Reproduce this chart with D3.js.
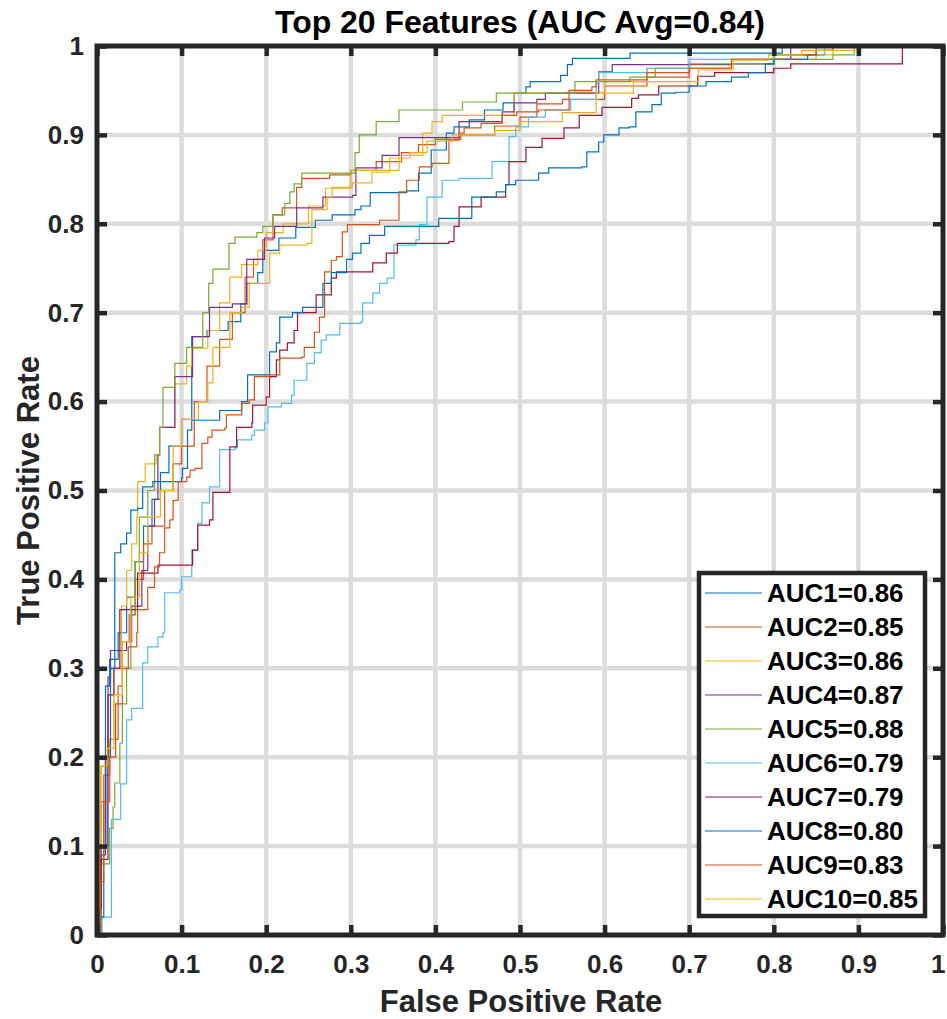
<!DOCTYPE html>
<html>
  <head>
    <meta charset="utf-8" />
    <title>Top 20 Features ROC</title>
    <style>
      body { margin: 0; background: #fff; }
      svg { display: block; font-family: "Liberation Sans", Arial, sans-serif; }
      .tick text { font-weight: bold; font-size: 26px; fill: #262626; }
    </style>
  </head>
  <body>
    <svg id="chart" width="947" height="1019"></svg>

    <script src="https://d3js.org/d3.v7.min.js"></script>
    <script>
      // ROC curves, [false positive rate, true positive rate]
      const roc1 = [[0,0],[0.005,0.15],[0.01,0.28],[0.015,0.31],[0.025,0.34],[0.035,0.38],[0.045,0.42],[0.055,0.46],[0.065,0.49],[0.075,0.52],[0.085,0.55],[0.1,0.58],[0.112,0.6],[0.112,0.673],[0.13,0.68],[0.155,0.69],[0.17,0.71],[0.177,0.733],[0.19,0.745],[0.196,0.77],[0.215,0.784],[0.235,0.796],[0.258,0.804],[0.278,0.81],[0.305,0.816],[0.312,0.82],[0.323,0.835],[0.366,0.837],[0.38,0.857],[0.395,0.883],[0.413,0.902],[0.422,0.909],[0.44,0.917],[0.458,0.928],[0.48,0.936],[0.493,0.947],[0.507,0.954],[0.512,0.96],[0.548,0.967],[0.556,0.979],[0.562,0.986],[0.615,0.986],[0.63,0.992],[0.8,0.992],[0.81,1],[1,1]];
      const roc2 = [[0,0],[0.004,0.1],[0.008,0.18],[0.015,0.22],[0.025,0.28],[0.03,0.33],[0.038,0.36],[0.045,0.4],[0.055,0.44],[0.065,0.46],[0.08,0.5],[0.09,0.53],[0.1,0.55],[0.115,0.6],[0.13,0.64],[0.145,0.67],[0.16,0.7],[0.175,0.74],[0.185,0.76],[0.196,0.782],[0.208,0.81],[0.219,0.818],[0.236,0.841],[0.242,0.851],[0.275,0.855],[0.3,0.86],[0.33,0.87],[0.36,0.88],[0.38,0.889],[0.4,0.895],[0.43,0.9],[0.47,0.91],[0.5,0.92],[0.52,0.935],[0.55,0.94],[0.6,0.955],[0.65,0.965],[0.7,0.975],[0.75,0.985],[0.8,0.99],[0.86,0.995],[0.87,1],[1,1]];
      const roc3 = [[0,0],[0.003,0.1],[0.005,0.19],[0.015,0.22],[0.02,0.3],[0.029,0.37],[0.035,0.41],[0.041,0.44],[0.047,0.47],[0.048,0.51],[0.057,0.53],[0.07,0.54],[0.074,0.571],[0.092,0.62],[0.106,0.64],[0.112,0.66],[0.131,0.68],[0.145,0.711],[0.157,0.74],[0.171,0.754],[0.19,0.77],[0.2,0.79],[0.22,0.8],[0.25,0.82],[0.27,0.84],[0.3,0.86],[0.357,0.877],[0.385,0.902],[0.396,0.915],[0.408,0.922],[0.487,0.922],[0.493,0.947],[0.554,0.948],[0.6,0.96],[0.65,0.975],[0.75,0.985],[0.85,0.99],[0.87,1],[1,1]];
      const roc4 = [[0,0],[0.005,0.09],[0.01,0.2],[0.013,0.29],[0.016,0.32],[0.035,0.33],[0.041,0.37],[0.053,0.41],[0.06,0.46],[0.068,0.49],[0.072,0.54],[0.074,0.571],[0.092,0.628],[0.113,0.673],[0.133,0.706],[0.16,0.71],[0.177,0.76],[0.198,0.784],[0.21,0.797],[0.236,0.818],[0.267,0.83],[0.302,0.832],[0.306,0.863],[0.337,0.877],[0.357,0.897],[0.422,0.897],[0.428,0.915],[0.479,0.926],[0.493,0.936],[0.52,0.94],[0.53,0.947],[0.593,0.971],[0.609,0.979],[0.75,0.98],[0.8,0.985],[0.82,1],[1,1]];
      const roc5 = [[0,0],[0.005,0.08],[0.015,0.12],[0.019,0.144],[0.021,0.171],[0.027,0.216],[0.03,0.26],[0.035,0.3],[0.04,0.36],[0.045,0.42],[0.05,0.47],[0.06,0.5],[0.068,0.54],[0.074,0.571],[0.078,0.616],[0.092,0.643],[0.106,0.661],[0.125,0.7],[0.132,0.733],[0.137,0.749],[0.156,0.778],[0.163,0.785],[0.189,0.79],[0.196,0.797],[0.208,0.81],[0.222,0.823],[0.228,0.836],[0.233,0.845],[0.242,0.857],[0.3,0.857],[0.305,0.88],[0.31,0.9],[0.33,0.915],[0.357,0.928],[0.428,0.928],[0.432,0.937],[0.472,0.947],[0.561,0.947],[0.565,0.96],[0.63,0.965],[0.66,0.975],[0.7,0.98],[0.8,0.985],[0.87,0.99],[0.895,1],[1,1]];
      const roc6 = [[0,0],[0.006,0.02],[0.017,0.13],[0.028,0.17],[0.035,0.242],[0.041,0.255],[0.054,0.306],[0.06,0.324],[0.072,0.335],[0.078,0.34],[0.08,0.385],[0.098,0.388],[0.1,0.403],[0.112,0.433],[0.119,0.463],[0.124,0.486],[0.133,0.504],[0.145,0.508],[0.145,0.546],[0.163,0.548],[0.166,0.557],[0.183,0.562],[0.186,0.568],[0.198,0.576],[0.202,0.594],[0.218,0.598],[0.23,0.607],[0.233,0.624],[0.239,0.624],[0.248,0.643],[0.257,0.655],[0.265,0.669],[0.271,0.675],[0.287,0.688],[0.312,0.69],[0.314,0.711],[0.326,0.722],[0.334,0.733],[0.343,0.739],[0.351,0.742],[0.351,0.776],[0.377,0.782],[0.381,0.799],[0.39,0.83],[0.408,0.832],[0.408,0.849],[0.428,0.851],[0.467,0.87],[0.487,0.898],[0.495,0.909],[0.51,0.92],[0.53,0.928],[0.56,0.94],[0.59,0.958],[0.593,0.97],[0.65,0.975],[0.7,0.985],[0.8,0.99],[0.85,0.99],[0.86,1],[1,1]];
      const roc7 = [[0,0],[0.003,0.03],[0.005,0.085],[0.013,0.087],[0.013,0.27],[0.02,0.3],[0.027,0.366],[0.048,0.366],[0.048,0.407],[0.072,0.416],[0.112,0.416],[0.113,0.433],[0.119,0.461],[0.133,0.467],[0.137,0.498],[0.157,0.5],[0.157,0.549],[0.165,0.571],[0.183,0.576],[0.184,0.596],[0.2,0.605],[0.204,0.628],[0.212,0.647],[0.216,0.658],[0.225,0.666],[0.233,0.68],[0.237,0.7],[0.259,0.72],[0.277,0.739],[0.283,0.746],[0.324,0.746],[0.326,0.756],[0.342,0.767],[0.355,0.778],[0.416,0.78],[0.422,0.797],[0.428,0.819],[0.454,0.83],[0.483,0.844],[0.487,0.87],[0.507,0.886],[0.526,0.896],[0.552,0.908],[0.57,0.922],[0.597,0.931],[0.632,0.941],[0.64,0.945],[0.664,0.955],[0.71,0.966],[0.73,0.97],[0.775,0.97],[0.8,0.975],[0.82,0.98],[0.952,0.98],[0.952,1],[1,1]];
      const roc8 = [[0,0],[0.004,0.02],[0.008,0.1],[0.012,0.2],[0.016,0.3],[0.021,0.43],[0.028,0.44],[0.035,0.452],[0.04,0.478],[0.048,0.48],[0.054,0.504],[0.066,0.51],[0.1,0.514],[0.101,0.525],[0.107,0.568],[0.112,0.579],[0.145,0.59],[0.171,0.6],[0.178,0.63],[0.204,0.656],[0.212,0.666],[0.216,0.695],[0.231,0.7],[0.243,0.706],[0.267,0.733],[0.277,0.745],[0.295,0.76],[0.302,0.767],[0.312,0.778],[0.322,0.787],[0.34,0.797],[0.404,0.806],[0.443,0.83],[0.472,0.836],[0.483,0.844],[0.495,0.849],[0.522,0.857],[0.534,0.863],[0.573,0.864],[0.579,0.881],[0.593,0.892],[0.599,0.9],[0.617,0.908],[0.629,0.909],[0.637,0.926],[0.656,0.934],[0.667,0.947],[0.684,0.948],[0.7,0.955],[0.72,0.96],[0.75,0.965],[0.77,0.97],[0.79,0.98],[0.8,0.985],[0.84,0.99],[0.85,1],[1,1]];
      const roc9 = [[0,0],[0.004,0.06],[0.008,0.15],[0.015,0.2],[0.022,0.26],[0.03,0.3],[0.037,0.324],[0.047,0.34],[0.048,0.366],[0.06,0.391],[0.068,0.414],[0.074,0.43],[0.08,0.458],[0.086,0.467],[0.09,0.489],[0.096,0.51],[0.106,0.515],[0.11,0.523],[0.116,0.525],[0.124,0.553],[0.131,0.56],[0.136,0.568],[0.151,0.57],[0.153,0.585],[0.171,0.587],[0.171,0.598],[0.18,0.602],[0.186,0.628],[0.204,0.63],[0.216,0.649],[0.242,0.65],[0.245,0.661],[0.257,0.678],[0.263,0.695],[0.269,0.746],[0.277,0.759],[0.283,0.763],[0.29,0.791],[0.296,0.799],[0.334,0.804],[0.357,0.836],[0.366,0.849],[0.381,0.864],[0.396,0.868],[0.416,0.894],[0.428,0.902],[0.434,0.908],[0.454,0.913],[0.479,0.922],[0.496,0.926],[0.522,0.928],[0.558,0.95],[0.585,0.954],[0.59,0.962],[0.65,0.97],[0.7,0.975],[0.75,0.985],[0.82,0.99],[0.85,0.995],[0.87,1],[1,1]];
      const roc10 = [[0,0],[0.002,0.12],[0.004,0.19],[0.012,0.21],[0.02,0.27],[0.03,0.33],[0.04,0.38],[0.05,0.43],[0.06,0.47],[0.075,0.5],[0.09,0.55],[0.1,0.58],[0.12,0.6],[0.131,0.621],[0.137,0.661],[0.157,0.7],[0.171,0.706],[0.18,0.733],[0.2,0.733],[0.204,0.767],[0.216,0.776],[0.248,0.778],[0.254,0.816],[0.272,0.83],[0.278,0.841],[0.302,0.846],[0.325,0.858],[0.346,0.874],[0.37,0.88],[0.39,0.893],[0.42,0.9],[0.47,0.905],[0.5,0.915],[0.55,0.925],[0.59,0.947],[0.634,0.96],[0.664,0.96],[0.711,0.973],[0.752,0.984],[0.794,0.99],[0.833,0.995],[0.896,0.995],[0.9,1],[1,1]];

      const curves = [roc1, roc2, roc3, roc4, roc5, roc6, roc7, roc8, roc9, roc10];
      const aucLabels = ["AUC1=0.86", "AUC2=0.85", "AUC3=0.86", "AUC4=0.87", "AUC5=0.88",
                         "AUC6=0.79", "AUC7=0.79", "AUC8=0.80", "AUC9=0.83", "AUC10=0.85"];
      const tickValues = [0, 0.1, 0.2, 0.3, 0.4, 0.5, 0.6, 0.7, 0.8, 0.9, 1];
      const tickLabels = ["0", "0.1", "0.2", "0.3", "0.4", "0.5", "0.6", "0.7", "0.8", "0.9", "1"];
      // matlab default colour order, cycling after 7
      const lineColors = ["#0072BD", "#D95319", "#EDB120", "#7E2F8E", "#77AC30", "#4DBEEE", "#A2142F"];

      const svg = d3.select("#chart");
      const padL = 97, padR = 943, padT = 46, padB = 935;
      const ink = "#262626";

      const x = d3.scaleLinear().domain([0, 1]).range([padL, padR]);
      const y = d3.scaleLinear().domain([0, 1]).range([padB, padT]);

      // grid
      const grid = svg.append("g").attr("stroke", "#dcdcdc").attr("stroke-width", 4.5);
      grid.selectAll(".gx").data(tickValues.slice(1, -1)).enter().append("line")
        .attr("x1", d => x(d)).attr("x2", d => x(d)).attr("y1", padT).attr("y2", padB);
      grid.selectAll(".gy").data(tickValues.slice(1, -1)).enter().append("line")
        .attr("y1", d => y(d)).attr("y2", d => y(d)).attr("x1", padL).attr("x2", padR);

      // roc curves
      const line = d3.line().x(d => x(d[0])).y(d => y(d[1])).curve(d3.curveStepAfter);
      svg.append("g").selectAll("path").data(curves).enter().append("path")
        .attr("d", line)
        .attr("fill", "none")
        .attr("stroke", (d, i) => lineColors[i % lineColors.length])
        .attr("stroke-width", 1.2);

      // axes, ticks pointing inward on all four sides
      const fmt = d => tickLabels[tickValues.indexOf(d)];
      const styleAxis = g => {
        g.select(".domain").remove();
        g.selectAll(".tick line").attr("stroke", ink).attr("stroke-width", 4.5);
      };
      const xAxis = svg.append("g").attr("transform", `translate(0,${padB})`)
        .call(d3.axisBottom(x).tickValues(tickValues).tickFormat(fmt).tickSize(-10).tickPadding(20))
        .call(styleAxis).attr("font-family", null).attr("font-size", null);
      xAxis.selectAll(".tick text").filter(d => d === 1).attr("dx", "-0.2em");
      svg.append("g").attr("transform", `translate(${padL},0)`)
        .call(d3.axisLeft(y).tickValues(tickValues).tickFormat(fmt).tickSize(-10).tickPadding(13))
        .call(styleAxis).attr("font-family", null).attr("font-size", null);
      svg.append("g").attr("transform", `translate(0,${padT})`)
        .call(d3.axisTop(x).tickValues(tickValues).tickFormat("").tickSize(-10))
        .call(styleAxis);
      svg.append("g").attr("transform", `translate(${padR},0)`)
        .call(d3.axisRight(y).tickValues(tickValues).tickFormat("").tickSize(-10))
        .call(styleAxis);

      svg.append("rect")
        .attr("x", padL).attr("y", padT).attr("width", padR - padL).attr("height", padB - padT)
        .attr("fill", "none").attr("stroke", ink).attr("stroke-width", 5);

      // labels
      svg.append("text")
        .attr("x", 520).attr("y", 33)
        .attr("text-anchor", "middle")
        .attr("font-weight", "bold").attr("font-size", 31)
        .attr("textLength", 490).attr("lengthAdjust", "spacingAndGlyphs")
        .attr("fill", "#000")
        .text("Top 20 Features (AUC Avg=0.84)");

      svg.append("text")
        .attr("x", 521).attr("y", 1012)
        .attr("text-anchor", "middle")
        .attr("font-weight", "bold").attr("font-size", 31)
        .attr("fill", ink)
        .text("False Positive Rate");

      svg.append("text")
        .attr("transform", `translate(39,${(padT + padB) / 2}) rotate(-90)`)
        .attr("text-anchor", "middle")
        .attr("font-weight", "bold").attr("font-size", 31)
        .attr("fill", ink)
        .text("True Positive Rate");

      // legend
      const legend = svg.append("g");
      legend.append("rect")
        .attr("x", 699).attr("y", 573).attr("width", 226).attr("height", 343)
        .attr("fill", "#fff").attr("stroke", ink).attr("stroke-width", 4.5);
      const rows = legend.selectAll(".row").data(aucLabels).enter().append("g")
        .attr("transform", (d, i) => `translate(0,${593 + i * 34})`);
      rows.append("line")
        .attr("x1", 705).attr("x2", 762)
        .attr("stroke", (d, i) => lineColors[i % lineColors.length])
        .attr("stroke-width", 1.2);
      rows.append("text")
        .attr("x", 767).attr("dy", "0.36em")
        .attr("font-weight", "bold").attr("font-size", 26)
        .attr("fill", "#000")
        .text(d => d);
    </script>
  </body>
</html>
